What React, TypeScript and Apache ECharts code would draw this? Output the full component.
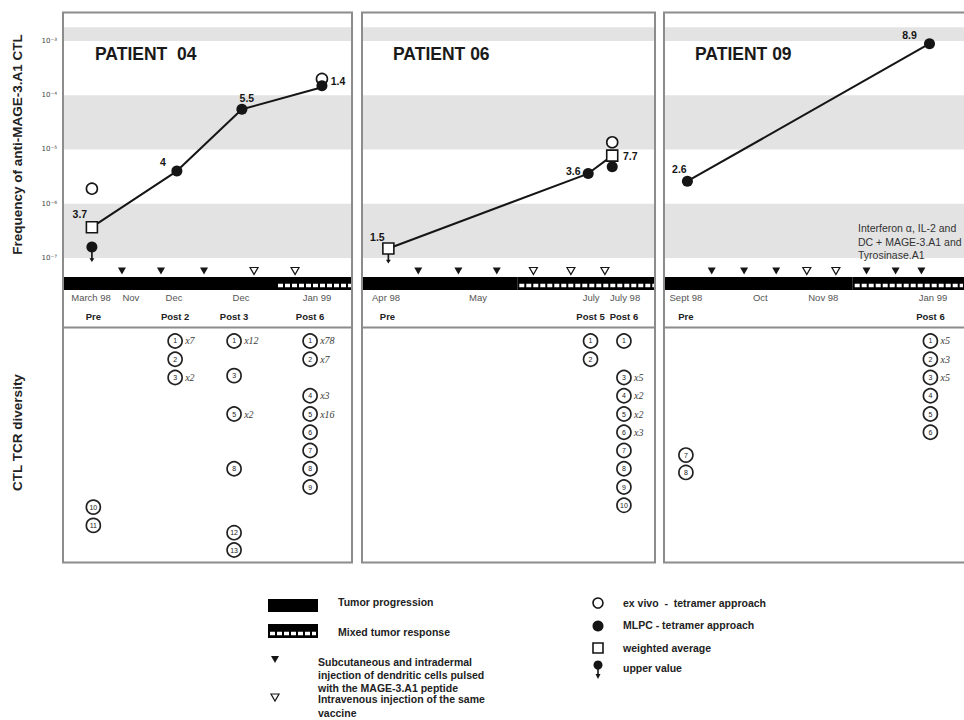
import React, { useEffect, useRef } from 'react';
import * as echarts from 'echarts';

const FONT = '"Liberation Sans", Arial, Helvetica, sans-serif';

// ---------------- Patient 04 ----------------
const P04_TIMES = [10.0, 39.4, 61.9, 89.6];
const P04_WEIGHTED = [3.7e-7, 4.0e-6, 5.5e-5, 1.4e-4];
const P04_EX_VIVO = [[10.0, 1.9e-6], [89.6, 2.0e-4]];
const P04_MLPC = [[10.0, 1.6e-7], [39.4, 4.0e-6], [61.9, 5.5e-5], [89.6, 1.5e-4]];
const P04_SQUARES = [[10.0, 3.7e-7]];
const P04_UPPER = [[10.0, 1.6e-7]];
const P04_DC = [20.4, 33.9, 48.8];
const P04_IV = [66.1, 80.3];
const P04_PHASES = [[0, 73.7, 0], [73.7, 100, 1]];
const P04_MONTHS = ['March 98', 'Nov', 'Dec', 'Dec', 'Jan 99'];
const P04_MONTH_X = [9.7, 23.5, 38.4, 61.6, 87.9];
const P04_STAGES = ['Pre', 'Post 2', 'Post 3', 'Post 6'];
const P04_STAGE_X = [10.5, 38.8, 59.2, 85.5];
// [stage index, clonotype, rank row, multiplicity]
const P04_CLONES: [number, number, number, string][] = [
  [0, 10, 10.1, ''], [0, 11, 11.1, ''],
  [1, 1, 1, 'x7'], [1, 2, 2, ''], [1, 3, 3, 'x2'],
  [2, 1, 1, 'x12'], [2, 3, 2.9, ''], [2, 5, 5, 'x2'], [2, 8, 8, ''], [2, 12, 11.5, ''], [2, 13, 12.45, ''],
  [3, 1, 1, 'x78'], [3, 2, 2, 'x7'], [3, 4, 4, 'x3'], [3, 5, 5, 'x16'], [3, 6, 6, ''], [3, 7, 7, ''], [3, 8, 8, ''], [3, 9, 9, ''],
];

// ---------------- Patient 06 ----------------
const P06_TIMES = [9.0, 77.2, 85.4];
const P06_WEIGHTED = [1.5e-7, 3.6e-6, 7.7e-6];
const P06_EX_VIVO = [[85.4, 1.36e-5]];
const P06_MLPC = [[77.2, 3.6e-6], [85.4, 4.8e-6]];
const P06_SQUARES = [[9.0, 1.5e-7], [85.4, 7.7e-6]];
const P06_UPPER = [[9.0, 1.5e-7]];
const P06_DC = [19.2, 32.9, 46.0];
const P06_IV = [58.5, 71.3, 82.9];
const P06_PHASES = [[0, 53.0, 0], [53.0, 100, 1]];
const P06_MONTHS = ['Apr 98', 'May', 'July', 'July 98'];
const P06_MONTH_X = [8.2, 39.6, 78.2, 89.8];
const P06_STAGES = ['Pre', 'Post 5', 'Post 6'];
const P06_STAGE_X = [8.7, 78.0, 89.4];
const P06_CLONES: [number, number, number, string][] = [
  [1, 1, 1, ''], [1, 2, 2, ''],
  [2, 1, 1, ''], [2, 3, 3, 'x5'], [2, 4, 4, 'x2'], [2, 5, 5, 'x2'], [2, 6, 6, 'x3'],
  [2, 7, 7, ''], [2, 8, 8, ''], [2, 9, 9, ''], [2, 10, 10, ''],
];

// ---------------- Patient 09 ----------------
const P09_TIMES = [7.8, 88.5];
const P09_WEIGHTED = [2.6e-6, 8.9e-4];
const P09_EX_VIVO: number[][] = [];
const P09_MLPC = [[7.8, 2.6e-6], [88.5, 8.9e-4]];
const P09_SQUARES: number[][] = [];
const P09_UPPER: number[][] = [];
const P09_DC = [15.9, 26.7, 37.4, 67.5, 77.2, 85.8];
const P09_IV = [47.6, 57.3];
const P09_PHASES = [[0, 62.9, 0], [62.9, 100, 1]];
const P09_MONTHS = ['Sept 98', 'Oct', 'Nov 98', 'Jan 99'];
const P09_MONTH_X = [7.3, 32.1, 53.1, 89.7];
const P09_STAGES = ['Pre', 'Post 6'];
const P09_STAGE_X = [7.3, 88.8];
const P09_CLONES: [number, number, number, string][] = [
  [1, 1, 1, 'x5'], [1, 2, 2, 'x3'], [1, 3, 3, 'x5'], [1, 4, 4, ''], [1, 5, 5, ''], [1, 6, 6, ''],
  [0, 7, 7.25, ''], [0, 8, 8.2, ''],
];
const P09_NOTE = ['Interferon \u03b1, IL-2 and', 'DC + MAGE-3.A1 and', 'Tyrosinase.A1'];

// Shaded decades of the frequency axis
const BANDS = [[1e-7, 1e-6], [1e-5, 1e-4], [1e-3, 1.8e-3]];

const PATIENTS = [
  { title: 'PATIENT  04', times: P04_TIMES, weighted: P04_WEIGHTED, exVivo: P04_EX_VIVO, mlpc: P04_MLPC, squares: P04_SQUARES, upper: P04_UPPER, dc: P04_DC, iv: P04_IV, phases: P04_PHASES, months: P04_MONTHS, monthX: P04_MONTH_X, stages: P04_STAGES, stageX: P04_STAGE_X, clones: P04_CLONES },
  { title: 'PATIENT 06', times: P06_TIMES, weighted: P06_WEIGHTED, exVivo: P06_EX_VIVO, mlpc: P06_MLPC, squares: P06_SQUARES, upper: P06_UPPER, dc: P06_DC, iv: P06_IV, phases: P06_PHASES, months: P06_MONTHS, monthX: P06_MONTH_X, stages: P06_STAGES, stageX: P06_STAGE_X, clones: P06_CLONES },
  { title: 'PATIENT 09', times: P09_TIMES, weighted: P09_WEIGHTED, exVivo: P09_EX_VIVO, mlpc: P09_MLPC, squares: P09_SQUARES, upper: P09_UPPER, dc: P09_DC, iv: P09_IV, phases: P09_PHASES, months: P09_MONTHS, monthX: P09_MONTH_X, stages: P09_STAGES, stageX: P09_STAGE_X, clones: P09_CLONES },
];

// Layout (pixels) and label placement
const LAYOUT = [
  { left: 63, width: 289, titleLeft: 95, offsets: [[-12, -13], [-14, -9], [5, -11], [16, -6]] },
  { left: 362, width: 293, titleLeft: 393, offsets: [[-11, -11], [-15, -3], [18, 0]] },
  { left: 664, width: 310, titleLeft: 695, offsets: [[-8, -12], [-20, -9]] },
];
const TOP = 13, TOP_H = 263, STRIP_TOP = 262, STRIP_H = 28, BOT_TOP = 328, BOT_H = 235;
const Y_MIN = 4.66e-8, Y_MAX = 3.28e-3;
const ROW_MIN = 0.29, ROW_MAX = 13.16;
const TRI_Y = 0.68;
const INK = '#151515';

const SUP: Record<string, string> = { '-': '\u207b', '0': '\u2070', '1': '\u00b9', '2': '\u00b2', '3': '\u00b3', '4': '\u2074', '5': '\u2075', '6': '\u2076', '7': '\u2077', '8': '\u2078', '9': '\u2079' };
const powLabel = (v: number) => {
  const e = Math.log10(v);
  const r = Math.round(e);
  if (Math.abs(e - r) > 0.02) return '';
  return '10' + String(r).split('').map((c) => SUP[c]).join('');
};
const mant = (v: number) => {
  const e = Math.floor(Math.log10(v) + 1e-9);
  return String(Math.round((v / Math.pow(10, e)) * 10) / 10);
};
const ARROW = 'path://M2,0 L4,0 L4,7 L6,7 L3,11 L0,7 L2,7 Z';

function buildOption() {
  const grid: any[] = [];
  const xAxis: any[] = [];
  const yAxis: any[] = [];
  const series: any[] = [];
  const title: any[] = [];
  const graphic: any[] = [];

  PATIENTS.forEach((p, i) => {
    const L = LAYOUT[i];
    const xa = 4 * i;
    const ya = 3 * i;
    grid.push({ left: L.left, width: L.width, top: TOP, height: TOP_H });
    grid.push({ left: L.left, width: L.width, top: STRIP_TOP, height: STRIP_H });
    grid.push({ left: L.left, width: L.width, top: BOT_TOP, height: BOT_H });

    xAxis.push({ gridIndex: 3 * i, type: 'value', min: 0, max: 100, show: false });
    xAxis.push({
      gridIndex: 3 * i + 1, type: 'value', min: 0, max: 100, position: 'bottom',
      axisLine: { show: false }, axisTick: { show: false }, splitLine: { show: false },
      axisLabel: {
        customValues: p.monthX, formatter: (v: number) => p.months[p.monthX.indexOf(v)] ?? '',
        fontSize: 9.5, color: '#555', margin: 2, fontFamily: FONT,
      },
    });
    xAxis.push({
      gridIndex: 3 * i + 1, type: 'value', min: 0, max: 100, position: 'bottom', offset: 19,
      axisLine: { show: false }, axisTick: { show: false }, splitLine: { show: false },
      axisLabel: {
        customValues: p.stageX, formatter: (v: number) => p.stages[p.stageX.indexOf(v)] ?? '',
        fontSize: 9.5, fontWeight: 'bold', color: '#222', margin: 2, fontFamily: FONT,
      },
    });
    xAxis.push({ gridIndex: 3 * i + 2, type: 'value', min: 0, max: 100, show: false });

    yAxis.push({
      gridIndex: 3 * i, type: 'log', logBase: 10, min: Y_MIN, max: Y_MAX,
      axisLine: { show: false }, axisTick: { show: false }, splitLine: { show: false },
      axisLabel: i === 0
        ? { show: true, formatter: powLabel, fontSize: 7, color: '#444', margin: 6, fontFamily: '"DejaVu Sans", sans-serif', padding: [0, 0, 8, 0] }
        : { show: false },
      name: i === 0 ? 'Frequency of anti-MAGE-3.A1 CTL' : '',
      nameLocation: 'middle', nameRotate: 90, nameGap: 39,
      nameTextStyle: { fontSize: 13.5, fontWeight: 'bold', color: '#222', fontFamily: FONT },
    });
    yAxis.push({ gridIndex: 3 * i + 1, type: 'value', min: 0, max: 1, show: false });
    yAxis.push({
      gridIndex: 3 * i + 2, type: 'value', min: ROW_MIN, max: ROW_MAX, inverse: true,
      axisLine: { show: false }, axisTick: { show: false }, splitLine: { show: false }, axisLabel: { show: false },
      name: i === 0 ? 'CTL TCR diversity' : '',
      nameLocation: 'middle', nameRotate: 90, nameGap: 39,
      nameTextStyle: { fontSize: 13.5, fontWeight: 'bold', color: '#222', fontFamily: FONT, padding: [0, 0, 0, 26] },
    });

    // frequency line (weighted average)
    series.push({
      type: 'line', name: 'frequency', xAxisIndex: xa, yAxisIndex: ya,
      data: p.times.map((t, k) => ({ value: [t, p.weighted[k]], label: { offset: L.offsets[k] } })),
      symbol: 'circle', symbolSize: 0, showSymbol: true,
      lineStyle: { color: INK, width: 2 }, itemStyle: { color: INK },
      label: { show: true, position: 'inside', formatter: (q: any) => mant(q.value[1]), color: INK, fontSize: 10.5, fontWeight: 'bold', fontFamily: FONT },
      markArea: { silent: true, itemStyle: { color: '#e3e3e3' }, data: BANDS.map((b) => [{ yAxis: b[0] }, { yAxis: b[1] }]) },
      z: 2, silent: true,
    });
    series.push({
      type: 'scatter', name: 'upper value', xAxisIndex: xa, yAxisIndex: ya, data: p.upper,
      symbol: ARROW, symbolSize: [5, 10], symbolOffset: [0, 10], itemStyle: { color: INK, opacity: 1 }, z: 3, silent: true,
    });
    series.push({
      type: 'scatter', name: 'weighted average', xAxisIndex: xa, yAxisIndex: ya, data: p.squares,
      symbol: 'rect', symbolSize: 11, itemStyle: { color: '#fff', borderColor: INK, borderWidth: 1.6, opacity: 1 }, z: 4, silent: true,
    });
    series.push({
      type: 'scatter', name: 'ex vivo - tetramer approach', xAxisIndex: xa, yAxisIndex: ya, data: p.exVivo,
      symbol: 'circle', symbolSize: 11, itemStyle: { color: '#fff', borderColor: INK, borderWidth: 1.6, opacity: 1 }, z: 5, silent: true,
    });
    series.push({
      type: 'scatter', name: 'MLPC - tetramer approach', xAxisIndex: xa, yAxisIndex: ya, data: p.mlpc,
      symbol: 'circle', symbolSize: 11, itemStyle: { color: INK, opacity: 1 }, z: 5, silent: true,
    });

    // tumour status bar
    series.push({
      type: 'custom', name: 'tumor status', xAxisIndex: xa + 1, yAxisIndex: ya + 1, data: p.phases,
      encode: { x: [0, 1] }, silent: true, clip: false,
      renderItem: (params: any, api: any) => {
        const s = api.coord([api.value(0), 0]);
        const e = api.coord([api.value(1), 0]);
        const cs = params.coordSys;
        const yb = cs.y + cs.height;
        const kids: any[] = [{ type: 'rect', shape: { x: s[0], y: yb - 13, width: e[0] - s[0], height: 13 }, style: { fill: '#000' } }];
        if (api.value(2) === 1) {
          kids.push({ type: 'line', shape: { x1: s[0] + 2, y1: yb - 4.5, x2: e[0] - 1, y2: yb - 4.5 }, style: { stroke: '#fff', lineWidth: 3.5, lineDash: [5, 2] } });
        }
        return { type: 'group', children: kids };
      },
    });
    series.push({
      type: 'scatter', name: 'DC injection', xAxisIndex: xa + 1, yAxisIndex: ya + 1,
      data: p.dc.map((x) => [x, TRI_Y]), symbol: 'triangle', symbolRotate: 180, symbolSize: [8, 7],
      itemStyle: { color: INK, opacity: 1 }, silent: true,
    });
    series.push({
      type: 'scatter', name: 'IV injection', xAxisIndex: xa + 1, yAxisIndex: ya + 1,
      data: p.iv.map((x) => [x, TRI_Y]), symbol: 'triangle', symbolRotate: 180, symbolSize: [8, 7],
      itemStyle: { color: '#fff', borderColor: INK, borderWidth: 1.2, opacity: 1 }, silent: true,
    });

    // TCR clonotypes
    series.push({
      type: 'scatter', name: 'TCR clonotype', xAxisIndex: xa + 3, yAxisIndex: ya + 2,
      data: p.clones.map((c) => ({ name: String(c[1]), value: [p.stageX[c[0]], c[2]] })),
      symbol: 'circle', symbolSize: 14, itemStyle: { color: '#fff', borderColor: '#222', borderWidth: 1.7, opacity: 1 },
      label: { show: true, position: 'inside', formatter: '{b}', fontSize: 7, color: '#222', fontFamily: FONT },
      z: 3, silent: true,
    });
    series.push({
      type: 'scatter', name: 'clonotype multiplicity', xAxisIndex: xa + 3, yAxisIndex: ya + 2,
      data: p.clones.filter((c) => c[3]).map((c) => ({ name: c[3], value: [p.stageX[c[0]], c[2]] })),
      symbol: 'circle', symbolSize: 0.1, itemStyle: { color: 'rgba(0,0,0,0)', opacity: 1 },
      label: { show: true, position: 'right', distance: 10, formatter: '{b}', fontSize: 10, color: '#3a3a3a', fontStyle: 'italic', fontFamily: '"Liberation Serif", serif' },
      z: 3, silent: true,
    });

    title.push({ text: p.title, left: L.titleLeft, top: 45, padding: 0, textStyle: { fontSize: 17.5, fontWeight: 'bold', color: '#1a1a1a', fontFamily: FONT, lineHeight: 17 } });

    // panel frame
    graphic.push({ type: 'rect', shape: { x: L.left, y: 12.5, width: L.width, height: 550 }, style: { fill: 'none', stroke: '#8c8c8c', lineWidth: 2 }, z: 10, silent: true });
    graphic.push({ type: 'line', shape: { x1: L.left, y1: 327.5, x2: L.left + L.width, y2: 327.5 }, style: { stroke: '#8c8c8c', lineWidth: 2 }, z: 10, silent: true });
  });

  const txt = (text: string, x: number, y: number, size: number, extra: any = {}) => ({
    type: 'text', x, y, silent: true, z: 20,
    style: { text, fontSize: size, fontWeight: 'bold', fontFamily: FONT, fill: '#222', align: 'left', verticalAlign: 'middle', textAlign: 'left', textVerticalAlign: 'middle', ...extra },
  });

  // P09 annotation
  P09_NOTE.forEach((t, k) => graphic.push(txt(t, 858, 228 + k * 13.5, 10.5, { fontWeight: 'normal', fill: '#333' })));

  // Legend (left)
  graphic.push({ type: 'rect', shape: { x: 268, y: 599, width: 50, height: 13 }, style: { fill: '#000' }, silent: true });
  graphic.push(txt('Tumor progression', 338, 602, 10.5));
  graphic.push({ type: 'rect', shape: { x: 268, y: 624, width: 50, height: 14 }, style: { fill: '#000' }, silent: true });
  graphic.push({ type: 'line', shape: { x1: 270, y1: 633.5, x2: 316, y2: 633.5 }, style: { stroke: '#fff', lineWidth: 3.5, lineDash: [5, 2] }, silent: true });
  graphic.push(txt('Mixed tumor response', 338, 632, 10.5));
  graphic.push({ type: 'polygon', shape: { points: [[271, 656], [279, 656], [275, 663]] }, style: { fill: INK }, silent: true });
  graphic.push(txt('Subcutaneous and intradermal\ninjection of dendritic cells pulsed\nwith the MAGE-3.A1 peptide', 318, 675, 10.5, { lineHeight: 13 }));
  graphic.push({ type: 'polygon', shape: { points: [[271, 694], [279, 694], [275, 701]] }, style: { fill: '#fff', stroke: INK, lineWidth: 1.2 }, silent: true });
  graphic.push(txt('Intravenous injection of the same\nvaccine', 318, 706, 10.5, { lineHeight: 14 }));

  // Legend (right)
  graphic.push({ type: 'circle', shape: { cx: 598, cy: 603, r: 5 }, style: { fill: '#fff', stroke: INK, lineWidth: 1.6 }, silent: true });
  graphic.push(txt('ex vivo  -  tetramer approach', 623, 603, 10.5));
  graphic.push({ type: 'circle', shape: { cx: 598, cy: 626, r: 5.5 }, style: { fill: INK }, silent: true });
  graphic.push(txt('MLPC - tetramer approach', 623, 625, 10.5));
  graphic.push({ type: 'rect', shape: { x: 593, y: 643, width: 10, height: 10 }, style: { fill: '#fff', stroke: INK, lineWidth: 1.6 }, silent: true });
  graphic.push(txt('weighted average', 623, 648, 10.5));
  graphic.push({ type: 'circle', shape: { cx: 598, cy: 665, r: 4.5 }, style: { fill: INK }, silent: true });
  graphic.push({ type: 'line', shape: { x1: 598, y1: 668, x2: 598, y2: 675 }, style: { stroke: INK, lineWidth: 1.6 }, silent: true });
  graphic.push({ type: 'polygon', shape: { points: [[595.5, 674], [600.5, 674], [598, 679]] }, style: { fill: INK }, silent: true });
  graphic.push(txt('upper value', 623, 668, 10.5));

  return {
    animation: false,
    backgroundColor: '#fff',
    textStyle: { fontFamily: FONT },
    title, grid, xAxis, yAxis, series, graphic,
  };
}

export default function App() {
  const ref = useRef<HTMLDivElement>(null);
  useEffect(() => {
    if (!ref.current) return;
    const chart = echarts.init(ref.current, undefined, { renderer: 'svg' });
    chart.setOption(buildOption() as any);
    return () => chart.dispose();
  }, []);
  return <div ref={ref} style={{ position: 'absolute', left: 0, top: 0, width: 964, height: 720, background: '#fff' }} />;
}
